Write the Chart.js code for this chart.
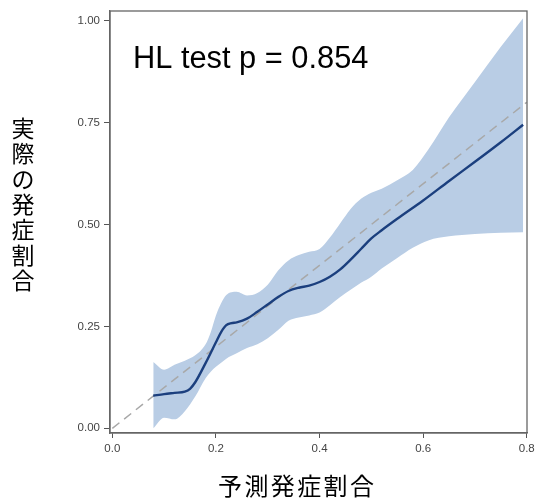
<!DOCTYPE html>
<html>
<head>
<meta charset="utf-8">
<script src="https://cdn.jsdelivr.net/npm/chart.js@4/dist/chart.umd.min.js"></script>
<style>
html,body{margin:0;padding:0;background:#fff;}
#wrap{width:535px;height:501px;position:relative;}
</style>
</head>
<body>
<div id="wrap"><canvas id="c" width="535" height="501"></canvas></div>
<script>
// ---- data ----
const xTicks = [0, 0.2, 0.4, 0.6, 0.8];
const yTicks = [0, 0.25, 0.5, 0.75, 1.0];
const xTitle = "予測発症割合";
const yTitle = "実際の発症割合";
const annotationText = "HL test p = 0.854";

const curveX = [0.079, 0.10, 0.12, 0.14, 0.15, 0.16, 0.18, 0.20, 0.21, 0.22, 0.23, 0.24, 0.26, 0.28, 0.30, 0.32, 0.34, 0.36, 0.38, 0.40, 0.42, 0.44, 0.46, 0.48, 0.50, 0.52, 0.55, 0.60, 0.65, 0.70, 0.75, 0.793];
const curveY = [0.080, 0.084, 0.087, 0.090, 0.097, 0.113, 0.160, 0.211, 0.236, 0.253, 0.258, 0.260, 0.269, 0.286, 0.304, 0.322, 0.337, 0.345, 0.350, 0.359, 0.372, 0.390, 0.414, 0.440, 0.466, 0.486, 0.514, 0.559, 0.607, 0.654, 0.702, 0.745];

const bandX     = [0.079, 0.10, 0.12, 0.14, 0.16, 0.18, 0.19, 0.20, 0.21, 0.22, 0.24, 0.26, 0.28, 0.30, 0.32, 0.34, 0.36, 0.38, 0.40, 0.42, 0.44, 0.46, 0.48, 0.50, 0.52, 0.55, 0.58, 0.61, 0.65, 0.70, 0.75, 0.793];
const bandUpper = [0.163, 0.144, 0.156, 0.166, 0.179, 0.206, 0.236, 0.277, 0.307, 0.327, 0.335, 0.326, 0.332, 0.352, 0.387, 0.412, 0.425, 0.433, 0.440, 0.468, 0.503, 0.538, 0.563, 0.578, 0.588, 0.609, 0.634, 0.684, 0.763, 0.850, 0.936, 1.006];
const bandLower = [0.000, 0.026, 0.022, 0.042, 0.078, 0.123, 0.139, 0.151, 0.161, 0.171, 0.184, 0.197, 0.206, 0.221, 0.241, 0.264, 0.272, 0.277, 0.284, 0.302, 0.322, 0.340, 0.357, 0.372, 0.392, 0.418, 0.443, 0.461, 0.471, 0.477, 0.480, 0.481];

const refX = [0, 0.8];
const refY = [0, 0.8];

// ---- build ----
const pts = (xs, ys) => xs.map((x, i) => ({x: x, y: ys[i]}));

const framePlugin = {
  id: 'frameAndText',
  afterDraw(chart) {
    const ctx = chart.ctx;
    const a = chart.chartArea;
    ctx.save();
    ctx.strokeStyle = '#666';
    ctx.lineWidth = 1.3;
    ctx.strokeRect(a.left, a.top, a.right - a.left, a.bottom - a.top);
    // annotation
    ctx.fillStyle = '#000';
    ctx.font = '30.8px "Liberation Sans", Arial, sans-serif';
    ctx.textAlign = 'left';
    ctx.textBaseline = 'alphabetic';
    ctx.fillText(annotationText, 133, 68);
    // y title, stacked vertically
    ctx.font = '23px "Noto Sans CJK JP", sans-serif';
    ctx.textAlign = 'center';
    ctx.textBaseline = 'middle';
    const yChars = Array.from(yTitle);
    yChars.forEach((ch, i) => ctx.fillText(ch, 23, 128 + i * 25.4));
    // x title
    ctx.font = '24px "Noto Sans CJK JP", sans-serif';
    const xChars = Array.from(xTitle);
    const pitch = 26.4;
    const cx = 296;
    xChars.forEach((ch, i) => ctx.fillText(ch, cx + (i - (xChars.length - 1) / 2) * pitch, 486));
    ctx.restore();
  }
};

const tickFont = {family: '"Liberation Sans", Arial, sans-serif', size: 11.5};

new Chart(document.getElementById('c'), {
  type: 'scatter',
  data: {
    datasets: [
      {
        label: 'curve',
        data: pts(curveX, curveY),
        showLine: true,
        borderColor: '#1b3f7e',
        borderWidth: 2.4,
        pointRadius: 0,
        tension: 0.4,
        cubicInterpolationMode: 'monotone',
        fill: false,
        order: 0
      },
      {
        label: 'reference',
        data: pts(refX, refY),
        showLine: true,
        borderColor: '#a8a8a8',
        borderWidth: 1.5,
        borderDash: [9, 6],
        pointRadius: 0,
        fill: false,
        order: 1
      },
      {
        label: 'upper',
        data: pts(bandX, bandUpper),
        showLine: true,
        borderWidth: 0,
        borderColor: 'rgba(0,0,0,0)',
        backgroundColor: '#b9cde5',
        pointRadius: 0,
        tension: 0.4,
        cubicInterpolationMode: 'monotone',
        fill: '+1',
        order: 2
      },
      {
        label: 'lower',
        data: pts(bandX, bandLower),
        showLine: true,
        borderWidth: 0,
        borderColor: 'rgba(0,0,0,0)',
        pointRadius: 0,
        tension: 0.4,
        cubicInterpolationMode: 'monotone',
        fill: false,
        order: 3
      }
    ]
  },
  options: {
    responsive: false,
    animation: false,
    layout: {padding: {top: 11, right: 8, left: 0, bottom: 0}},
    plugins: {legend: {display: false}, tooltip: {enabled: false}},
    scales: {
      x: {
        type: 'linear',
        min: -0.0045,
        max: 0.8005,
        afterBuildTicks: s => { s.ticks = xTicks.map(v => ({value: v})); },
        afterFit: s => { s.height = 68; s.paddingLeft = 0; s.paddingRight = 0; },
        grid: {display: true, drawOnChartArea: false, drawTicks: true, tickLength: 5, color: '#555'},
        border: {display: true, color: '#666', width: 1.3},
        ticks: {color: '#444', font: tickFont, padding: 4, maxRotation: 0, callback: v => Number(v).toFixed(1)}
      },
      y: {
        type: 'linear',
        min: -0.0115,
        max: 1.024,
        afterBuildTicks: s => { s.ticks = yTicks.map(v => ({value: v})); },
        afterFit: s => { s.width = 110; s.paddingTop = 0; s.paddingBottom = 0; },
        grid: {display: true, drawOnChartArea: false, drawTicks: true, tickLength: 6, color: '#555'},
        border: {display: true, color: '#666', width: 1.3},
        ticks: {color: '#444', font: tickFont, padding: 4, callback: v => Number(v).toFixed(2)}
      }
    }
  },
  plugins: [framePlugin]
});
</script>
</body>
</html>
